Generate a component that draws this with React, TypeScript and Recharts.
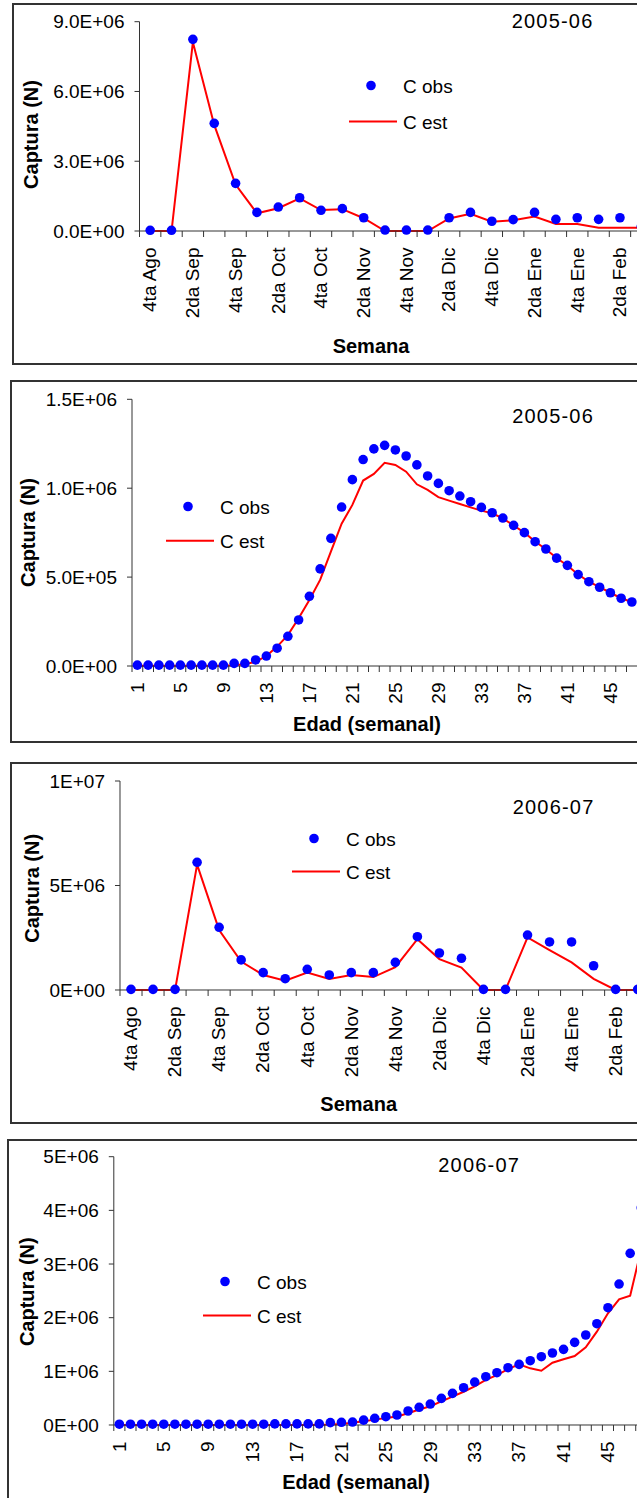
import React from "react";
import { LineChart, Line, XAxis, YAxis, Legend } from "recharts";

const FONT = '"Liberation Sans", Arial, Helvetica, sans-serif';
const OBS_COLOR = "#0000FF";
const EST_COLOR = "#FF0000";
const AXIS_COLOR = "#333333";
const FRAME_COLOR = "#333333";

// semanas de la temporada (eje categórico de las gráficas por semana)
const weeks = [
  "4ta Ago", "1ra Sep", "2da Sep", "3ra Sep", "4ta Sep", "1ra Oct", "2da Oct", "3ra Oct",
  "4ta Oct", "1ra Nov", "2da Nov", "3ra Nov", "4ta Nov", "1ra Dic", "2da Dic", "3ra Dic",
  "4ta Dic", "1ra Ene", "2da Ene", "3ra Ene", "4ta Ene", "1ra Feb", "2da Feb", "3ra Feb",
];

// edad en semanas
const ages = [
  1, 2, 3, 4, 5, 6, 7, 8, 9, 10, 11, 12, 13, 14, 15, 16, 17, 18, 19, 20, 21, 22, 23, 24,
  25, 26, 27, 28, 29, 30, 31, 32, 33, 34, 35, 36, 37, 38, 39, 40, 41, 42, 43, 44, 45, 46, 47, 48,
];

// capturas en millones de individuos
const obsWeek0506 = [
  0.03, 0.03, 8.24, 4.63, 2.05, 0.8, 1.03, 1.43, 0.89, 0.96, 0.57, 0.04,
  0.04, 0.04, 0.57, 0.8, 0.42, 0.49, 0.8, 0.5, 0.57, 0.5, 0.57, 0.19,
];
const estWeek0506 = [
  0, 0, 8.12, 4.56, 2.0, 0.76, 0.98, 1.4, 0.9, 0.94, 0.55, 0,
  0, 0, 0.54, 0.74, 0.4, 0.46, 0.62, 0.3, 0.3, 0.14, 0.14, 0.14,
];

const obsAge0506 = [
  0.005, 0.005, 0.005, 0.005, 0.005, 0.005, 0.005, 0.005, 0.005, 0.015, 0.015, 0.034,
  0.056, 0.1, 0.167, 0.259, 0.392, 0.546, 0.718, 0.894, 1.048, 1.161, 1.221, 1.241,
  1.215, 1.181, 1.131, 1.069, 1.027, 0.986, 0.956, 0.924, 0.892, 0.862, 0.832, 0.791,
  0.75, 0.699, 0.658, 0.607, 0.566, 0.514, 0.474, 0.443, 0.412, 0.381, 0.36,
];
const estAge0506 = [
  0.001, 0.001, 0.001, 0.001, 0.001, 0.001, 0.001, 0.001, 0.001, 0.004, 0.01, 0.024,
  0.056, 0.109, 0.174, 0.268, 0.371, 0.484, 0.643, 0.8, 0.906, 1.043, 1.08, 1.143,
  1.131, 1.093, 1.022, 0.99, 0.95, 0.93, 0.911, 0.892, 0.874, 0.859, 0.83, 0.79,
  0.75, 0.7, 0.657, 0.607, 0.565, 0.515, 0.474, 0.443, 0.412, 0.381, 0.36,
];

const obsWeek0607 = [
  0.03, 0.03, 0.03, 6.11, 3.0, 1.44, 0.83, 0.54, 0.99, 0.72, 0.83, 0.83,
  1.32, 2.55, 1.77, 1.52, 0.03, 0.03, 2.63, 2.3, 2.3, 1.16, 0.03, 0.03,
];
const estWeek0607 = [
  0, 0, 0, 6.0, 2.87, 1.36, 0.72, 0.45, 0.83, 0.53, 0.72, 0.62,
  1.09, 2.43, 1.48, 1.07, 0, 0, 2.52, 1.91, 1.32, 0.53, 0, 0,
];

const obsAge0607 = [
  0.015, 0.015, 0.015, 0.015, 0.015, 0.015, 0.015, 0.015, 0.015, 0.015, 0.015, 0.015,
  0.015, 0.015, 0.02, 0.02, 0.02, 0.02, 0.02, 0.045, 0.05, 0.055, 0.09, 0.125,
  0.155, 0.186, 0.261, 0.33, 0.39, 0.497, 0.59, 0.695, 0.8, 0.9, 0.975, 1.068,
  1.13, 1.198, 1.273, 1.342, 1.41, 1.54, 1.677, 1.888, 2.186, 2.627, 3.199, 4.05,
];
const estAge0607 = [
  0, 0, 0, 0, 0, 0, 0, 0, 0, 0, 0, 0,
  0, 0, 0, 0, 0, 0, 0.005, 0.01, 0.02, 0.04, 0.07, 0.1,
  0.13, 0.16, 0.22, 0.29, 0.35, 0.44, 0.53, 0.62, 0.72, 0.84, 0.93, 1.04,
  1.13, 1.056, 1.012, 1.16, 1.224, 1.286, 1.448, 1.739, 2.081, 2.342, 2.41, 3.28,
];

// formato científico estilo Excel: 9.0E+06, 1E+07
function sci(v: number, digits: number) {
  const [m, e] = v.toExponential(digits).split("e");
  const n = Number(e);
  return `${m}E${n < 0 ? "-" : "+"}${String(Math.abs(n)).padStart(2, "0")}`;
}

function CategoryTick(props: any) {
  const { x, y, payload, band, step } = props;
  const i = props.index ?? payload.index;
  const bx = x - band / 2;
  const tx = x + 6.3;
  const ty = y + 16.5;
  return (
    <g>
      <line x1={bx} y1={y} x2={bx} y2={y + 6} stroke={AXIS_COLOR} />
      {i % step === 0 && (
        <text
          x={tx}
          y={ty}
          transform={`rotate(-90, ${tx}, ${ty})`}
          textAnchor="end"
          fontSize={19}
          fontFamily={FONT}
          fill="#000"
        >
          {payload.value}
        </text>
      )}
    </g>
  );
}

function SeriesLegend({ payload, gap }: { payload?: Array<{ value?: string; type?: string }>; gap: number }) {
  const items = [...(payload ?? [])].sort(
    (a, b) => (a.type === "circle" ? 0 : 1) - (b.type === "circle" ? 0 : 1)
  );
  return (
    <svg width={130} height={64} style={{ display: "block", overflow: "visible" }}>
      {items.map((item, i) => {
        const base = 20 + i * gap;
        return (
          <g key={item.value}>
            {item.type === "circle" ? (
              <circle cx={28} cy={base - 7.5} r={4.8} fill={OBS_COLOR} />
            ) : (
              <line x1={6} y1={base - 7.5} x2={54} y2={base - 7.5} stroke={EST_COLOR} strokeWidth={2} />
            )}
            <text x={60} y={base} fontSize={19} fontFamily={FONT} fill="#000">
              {item.value}
            </text>
          </g>
        );
      })}
    </svg>
  );
}

type PanelProps = {
  top: number;
  width: number;
  height: number;
  plotTop: number;
  yAxisWidth: number;
  xAxisHeight: number;
  categories: (string | number)[];
  obs: number[];
  est: number[];
  yMax: number;
  yTicks: number[];
  digits: number;
  labelStep: number;
  xTitle: string;
  xTitlePos: [number, number];
  yTitlePos: [number, number];
  legend: { x: number; y: number; gap: number };
  year: string;
  yearPos: [number, number];
};

function CapturePanel(p: PanelProps) {
  const rows = p.categories.map((c, i) => ({
    cat: String(c),
    obs: p.obs[i] * 1e6,
    est: p.est[i] * 1e6,
  }));
  const band = (p.width - p.yAxisWidth) / p.categories.length;
  const titleStyle = { fontSize: 20, fontWeight: 700, fontFamily: FONT, fill: "#000" };

  return (
    <div style={{ position: "absolute", left: 0, top: p.top, width: p.width, height: p.height }}>
      <LineChart
        width={p.width}
        height={p.height}
        data={rows}
        margin={{ top: p.plotTop, right: 0, bottom: 0, left: 0 }}
        style={{ fontFamily: FONT }}
      >
        <XAxis
          dataKey="cat"
          interval={0}
          height={p.xAxisHeight}
          padding={{ left: band / 2, right: band / 2 }}
          axisLine={{ stroke: AXIS_COLOR }}
          tickLine={false}
          tickSize={0}
          tickMargin={0}
          tick={<CategoryTick band={band} step={p.labelStep} />}
          label={() => (
            <text x={p.xTitlePos[0]} y={p.xTitlePos[1]} textAnchor="middle" style={titleStyle}>
              {p.xTitle}
            </text>
          )}
        />
        <YAxis
          type="number"
          domain={[0, p.yMax]}
          ticks={p.yTicks}
          interval={0}
          width={p.yAxisWidth}
          axisLine={{ stroke: AXIS_COLOR }}
          tickLine={{ stroke: AXIS_COLOR }}
          tickSize={5}
          tickMargin={10}
          tick={{ fill: "#000", fontSize: 19, fontFamily: FONT }}
          tickFormatter={(v: number) => sci(v, p.digits)}
          label={() => (
            <text
              x={p.yTitlePos[0]}
              y={p.yTitlePos[1]}
              textAnchor="middle"
              transform={`rotate(-90, ${p.yTitlePos[0]}, ${p.yTitlePos[1]})`}
              style={titleStyle}
            >
              Captura (N)
            </text>
          )}
        />
        <Legend
          layout="vertical"
          align="center"
          verticalAlign="middle"
          content={<SeriesLegend gap={p.legend.gap} />}
          wrapperStyle={{ left: p.legend.x - 60, top: p.legend.y - 20, width: 130, height: 64 }}
        />
        <Line
          dataKey="est"
          name="C est"
          type="linear"
          stroke={EST_COLOR}
          strokeWidth={2}
          dot={false}
          activeDot={false}
          legendType="line"
          isAnimationActive={false}
        />
        <Line
          dataKey="obs"
          name="C obs"
          type="linear"
          stroke={OBS_COLOR}
          strokeWidth={0}
          dot={{ r: 4.8, fill: OBS_COLOR, stroke: OBS_COLOR, strokeWidth: 0 }}
          activeDot={false}
          legendType="circle"
          isAnimationActive={false}
        />
      </LineChart>
      <svg
        width={p.width}
        height={p.height}
        style={{ position: "absolute", left: 0, top: 0, pointerEvents: "none" }}
      >
        <text
          x={p.yearPos[0]}
          y={p.yearPos[1]}
          fontSize={20}
          letterSpacing={1.2}
          fontFamily={FONT}
          fill="#000"
        >
          {p.year}
        </text>
      </svg>
    </div>
  );
}

function Frame({ left, top, height }: { left: number; top: number; height: number }) {
  return (
    <div
      style={{
        position: "absolute",
        left,
        top,
        width: 700,
        height,
        border: `2px solid ${FRAME_COLOR}`,
        boxSizing: "border-box",
      }}
    />
  );
}

export default function App() {
  return (
    <div
      style={{
        position: "absolute",
        left: 0,
        top: 0,
        width: 637,
        height: 1498,
        overflow: "hidden",
        background: "#fff",
      }}
    >
      <Frame left={11.7} top={3} height={362} />
      <Frame left={10} top={380} height={362.7} />
      <Frame left={10} top={762.3} height={361.4} />
      <Frame left={7} top={1138.5} height={400} />

      <CapturePanel
        top={0}
        width={652}
        height={364}
        plotTop={21.7}
        yAxisWidth={139.5}
        xAxisHeight={133}
        categories={weeks}
        obs={obsWeek0506}
        est={estWeek0506}
        yMax={9e6}
        yTicks={[0, 3e6, 6e6, 9e6]}
        digits={1}
        labelStep={2}
        xTitle="Semana"
        xTitlePos={[371, 352.5]}
        yTitlePos={[38.4, 134.5]}
        legend={{ x: 402.7, y: 92.8, gap: 36 }}
        year="2005-06"
        yearPos={[511.7, 28.3]}
      />
      <CapturePanel
        top={370}
        width={637.25}
        height={372}
        plotTop={29.3}
        yAxisWidth={132}
        xAxisHeight={76}
        categories={ages.slice(0, 47)}
        obs={obsAge0506}
        est={estAge0506}
        yMax={1.5e6}
        yTicks={[0, 5e5, 1e6, 1.5e6]}
        digits={1}
        labelStep={4}
        xTitle="Edad (semanal)"
        xTitlePos={[367, 361]}
        yTitlePos={[35.4, 162.5]}
        legend={{ x: 220, y: 144, gap: 34.3 }}
        year="2005-06"
        yearPos={[512.2, 53.3]}
      />
      <CapturePanel
        top={760}
        width={648.7}
        height={363}
        plotTop={21}
        yAxisWidth={120}
        xAxisHeight={133}
        categories={weeks}
        obs={obsWeek0607}
        est={estWeek0607}
        yMax={1e7}
        yTicks={[0, 5e6, 1e7]}
        digits={0}
        labelStep={2}
        xTitle="Semana"
        xTitlePos={[358.7, 351.5]}
        yTitlePos={[38.7, 128.3]}
        legend={{ x: 345.5, y: 86, gap: 33 }}
        year="2006-07"
        yearPos={[512.7, 54]}
      />
      <CapturePanel
        top={1140}
        width={646.84}
        height={358}
        plotTop={16.7}
        yAxisWidth={113.8}
        xAxisHeight={73}
        categories={ages}
        obs={obsAge0607}
        est={estAge0607}
        yMax={5e6}
        yTicks={[0, 1e6, 2e6, 3e6, 4e6, 5e6]}
        digits={0}
        labelStep={4}
        xTitle="Edad (semanal)"
        xTitlePos={[356, 349]}
        yTitlePos={[33.8, 151.7]}
        legend={{ x: 256.5, y: 149.3, gap: 34 }}
        year="2006-07"
        yearPos={[438.3, 31.7]}
      />
    </div>
  );
}
